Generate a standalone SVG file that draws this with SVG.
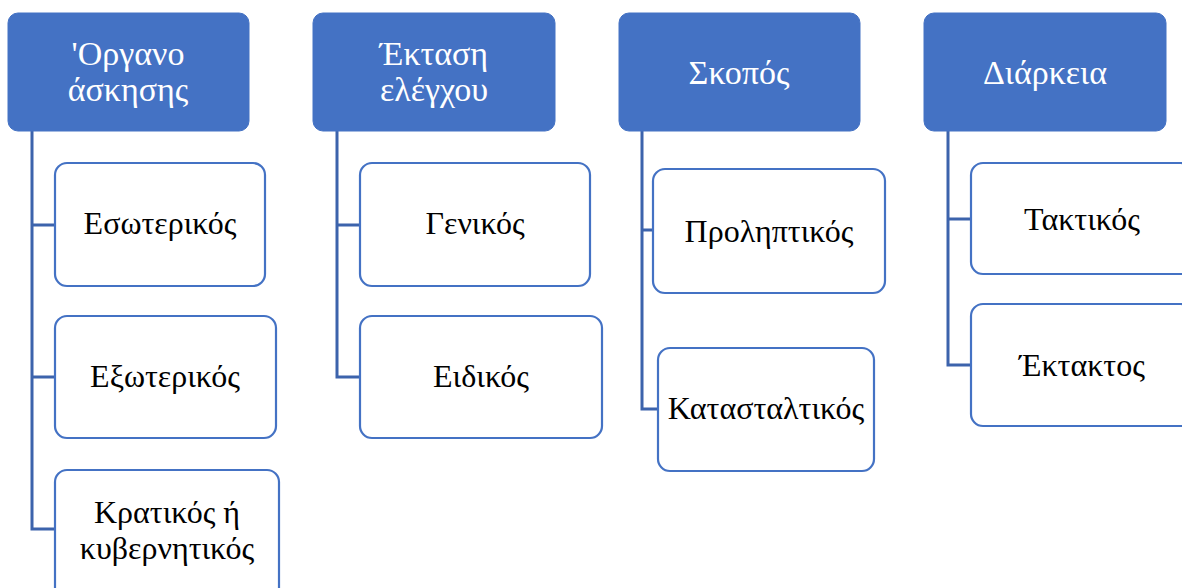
<svg xmlns="http://www.w3.org/2000/svg" width="1182" height="588" viewBox="0 0 1182 588">
  <style>
    .head rect { fill: #4472C4; stroke: #4472C4; stroke-width: 1; }
    .head text { fill: #FFFFFF; font-size: 34px; }
    .item rect { fill: #FFFFFF; stroke: #4472C4; stroke-width: 2.2; }
    .item text { fill: #000000; font-size: 32px; }
    text { font-family: "Liberation Serif", "Times New Roman", serif; text-anchor: middle; }
    .links path { fill: none; stroke: #3C63AC; stroke-width: 3; }
  </style>
  <rect width="1182" height="588" fill="#FFFFFF"/>

  <!-- tree connectors -->
  <g class="links">
    <path d="M32 131 V529 H55 M32 225 H55 M32 377 H55"/>
    <path d="M337 131 V377 H360 M337 225 H360"/>
    <path d="M642 131 V409 H658 M642 230 H653"/>
    <path d="M948 131 V365 H971 M948 219 H971"/>
  </g>

  <!-- column headers -->
  <g id="organo" class="head">
    <rect x="8" y="13" width="241" height="118" rx="10"/>
    <text x="128" y="65">'Οργανο</text>
    <text x="128" y="101">άσκησης</text>
  </g>
  <g id="ektasi" class="head">
    <rect x="313" y="13" width="242" height="118" rx="10"/>
    <text x="434" y="65">Έκταση</text>
    <text x="434" y="101">ελέγχου</text>
  </g>
  <g id="skopos" class="head">
    <rect x="619" y="13" width="241" height="118" rx="10"/>
    <text x="739" y="84">Σκοπός</text>
  </g>
  <g id="diarkeia" class="head">
    <rect x="924" y="13" width="242" height="118" rx="10"/>
    <text x="1045" y="84">Διάρκεια</text>
  </g>

  <!-- column 1 items -->
  <g id="esoterikos" class="item">
    <rect x="55" y="163" width="210" height="123" rx="12"/>
    <text x="160" y="234">Εσωτερικός</text>
  </g>
  <g id="exoterikos" class="item">
    <rect x="55" y="316" width="221" height="122" rx="12"/>
    <text x="165" y="387">Εξωτερικός</text>
  </g>
  <g id="kratikos" class="item">
    <rect x="55" y="470" width="224" height="130" rx="12"/>
    <text x="167" y="523">Κρατικός ή</text>
    <text x="167" y="559">κυβερνητικός</text>
  </g>

  <!-- column 2 items -->
  <g id="genikos" class="item">
    <rect x="360" y="163" width="230" height="123" rx="12"/>
    <text x="475" y="234">Γενικός</text>
  </g>
  <g id="eidikos" class="item">
    <rect x="360" y="316" width="242" height="122" rx="12"/>
    <text x="481" y="387">Ειδικός</text>
  </g>

  <!-- column 3 items -->
  <g id="proliptikos" class="item">
    <rect x="653" y="169" width="232" height="124" rx="12"/>
    <text x="769" y="242">Προληπτικός</text>
  </g>
  <g id="katastaltikos" class="item">
    <rect x="658" y="348" width="216" height="123" rx="12"/>
    <text x="766" y="419">Κατασταλτικός</text>
  </g>

  <!-- column 4 items -->
  <g id="taktikos" class="item">
    <rect x="971" y="163" width="222" height="111" rx="12"/>
    <text x="1082" y="230">Τακτικός</text>
  </g>
  <g id="ektaktos" class="item">
    <rect x="971" y="304" width="222" height="122" rx="12"/>
    <text x="1082" y="376">Έκτακτος</text>
  </g>
</svg>
